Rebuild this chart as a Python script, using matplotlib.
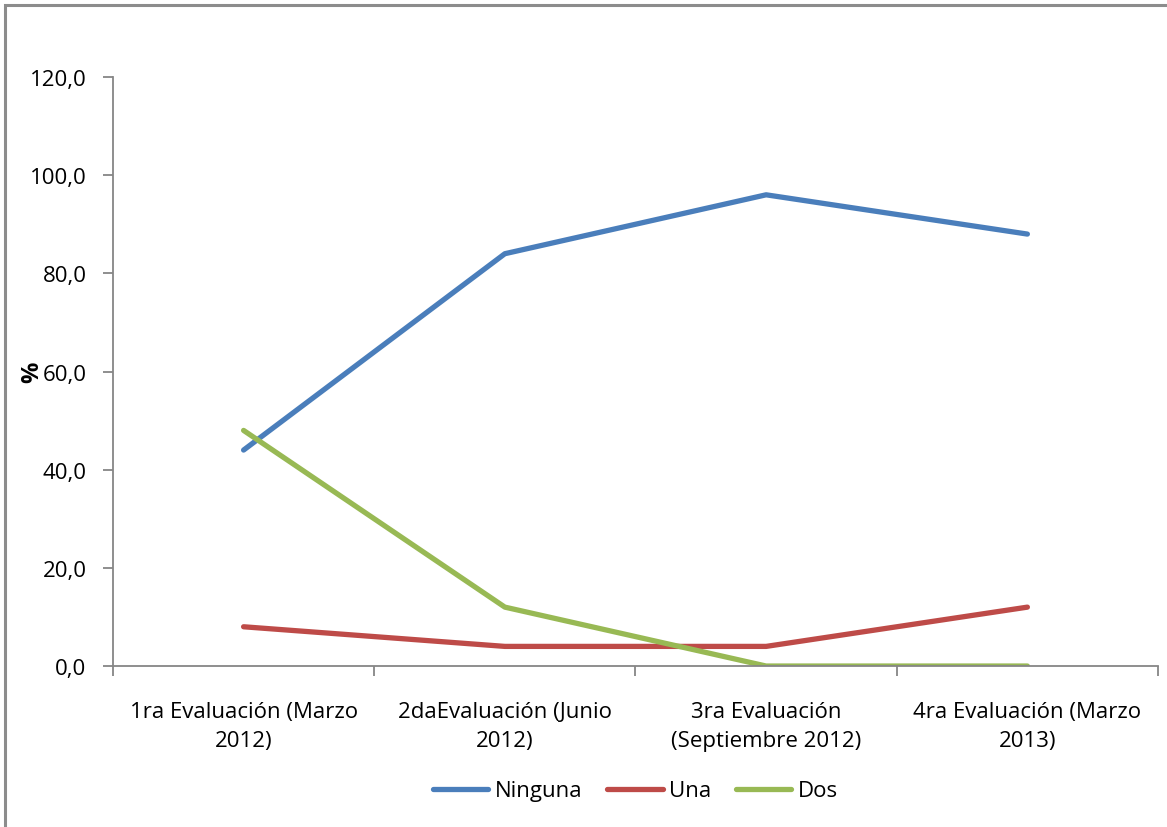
import numpy as np
import matplotlib.pyplot as plt
from matplotlib.patches import Rectangle
from matplotlib.ticker import FuncFormatter

plt.rcParams['font.family'] = ['Open Sans', 'DejaVu Sans']

categories = ['1ra Evaluación (Marzo\n2012)', '2daEvaluación (Junio\n2012)',
              '3ra Evaluación\n(Septiembre 2012)', '4ra Evaluación (Marzo\n2013)']
ninguna = [44, 84, 96, 88]
una = [8, 4, 4, 12]
dos = [48, 12, 0, 0]

fs = 16

fig = plt.figure(figsize=(11.67, 8.28), dpi=100)
ax = fig.add_axes([0.0968, 0.1944, 0.8955, 0.7114])

# chart area frame, open on the right and bottom
fig.patches.append(Rectangle((5 / 1167, -0.05), 1.2, 1 - 6 / 828 + 0.05,
                             transform=fig.transFigure, fill=False,
                             edgecolor='#8c8c8c', linewidth=2.2))

x = np.arange(len(categories))
ax.plot(x, ninguna, color='#4a7ebb', lw=3.8, solid_capstyle='round', label='Ninguna')
ax.plot(x, una, color='#be4b48', lw=3.8, solid_capstyle='round', label='Una')
ax.plot(x, dos, color='#98b954', lw=3.8, solid_capstyle='round', label='Dos')

ax.set_xlim(-0.5, 3.5)
ax.set_ylim(0, 120)
ax.set_yticks(np.arange(0, 121, 20))
ax.yaxis.set_major_formatter(FuncFormatter(lambda v, p: f'{v:.1f}'.replace('.', ',')))

ax.set_xticks(x)
ax.set_xticklabels(categories, fontsize=fs, linespacing=1.5)
ax.tick_params(axis='x', which='major', length=0, pad=25)
ax.set_xticks(np.arange(-0.5, 3.6, 1), minor=True)
ax.tick_params(axis='x', which='minor', length=7, color='#868686', width=1.3)
ax.tick_params(axis='y', length=7, color='#868686', width=1.3, labelsize=fs, pad=12)

for s in ['top', 'right']:
    ax.spines[s].set_visible(False)
for s in ['left', 'bottom']:
    ax.spines[s].set_color('#868686')
    ax.spines[s].set_linewidth(1.3)

ax.set_ylabel('%', fontsize=17, fontweight='bold')
ax.yaxis.set_label_coords(-0.066, 0.5)

ax.legend(loc='center', bbox_to_anchor=(0.5, -0.212), ncol=3, frameon=False,
          fontsize=fs, handlelength=2.5, handletextpad=0.3, columnspacing=1.1)

fig.savefig('out.png', dpi=100)
